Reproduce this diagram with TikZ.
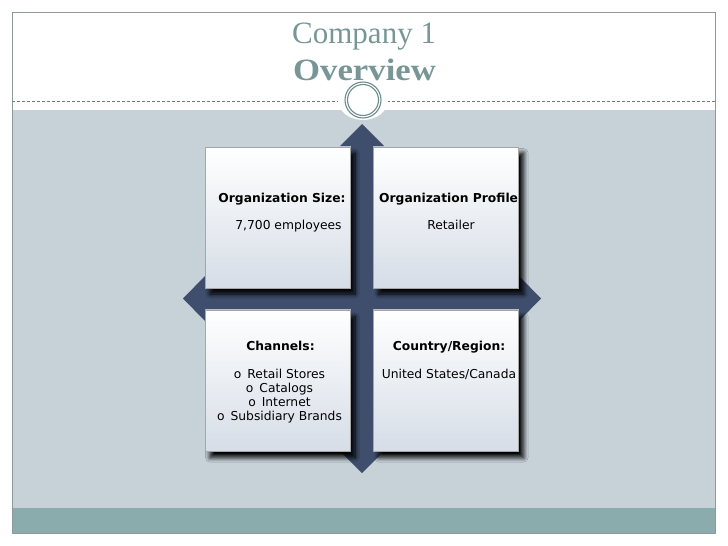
\documentclass[tikz,border=0pt]{standalone}
\usepackage{fontspec}
\usepackage{graphicx}
\usepackage{tikz}
\usetikzlibrary{positioning,shadows.blur}
\setmainfont{Liberation Serif}
\newfontfamily\cardfont{DejaVu Sans}

\definecolor{framegray}{RGB}{140,154,154}
\definecolor{bandgray}{RGB}{198,209,216}
\definecolor{bandteal}{RGB}{138,172,172}
\definecolor{crossnavy}{RGB}{62,78,108}
\definecolor{titleteal}{RGB}{120,150,150}
\definecolor{ringteal}{RGB}{110,140,140}
\definecolor{cardbottom}{RGB}{214,221,231}

\begin{document}
\begin{tikzpicture}[
  x=1pt, y=-1pt,
  card/.style={draw=gray!70, line width=0.6pt, top color=white, bottom color=cardbottom,
    minimum width=145pt, minimum height=141pt, inner sep=0pt,
    blur shadow={shadow xshift=5pt, shadow yshift=-6pt, shadow blur radius=4.5pt,
      shadow opacity=100, shadow blur steps=10}},
  head/.style={font=\cardfont\fontsize{12.3}{14.1}\selectfont\bfseries, inner sep=0pt, anchor=base},
  body/.style={font=\cardfont\fontsize{12.3}{14.1}\selectfont, inner sep=0pt, anchor=base},
  title/.style={text=titleteal, font=\fontsize{31}{36}\selectfont, inner sep=0pt, anchor=base west}
]
\useasboundingbox (0,0) rectangle (728,546);

% background bands and frame
\fill[bandgray] (12,110) rectangle (715,508);
\fill[bandteal] (12,508) rectangle (715,533);
\draw[framegray, line width=1pt] (12,12.5) rectangle (715,533);
\draw[framegray!80!black, dashed, dash pattern=on 3pt off 2pt, line width=0.6pt] (12,101) -- (715,101);

% title
\node[title] (company) at (292,43) {Company 1};
\node[title, font=\fontsize{31}{36}\selectfont\bfseries] (overview) at (293,80) {\scalebox{1.12}[1]{Overview}};

% ring
\fill[white] (363,100) ellipse [x radius=25, y radius=20];
\draw[ringteal, line width=1.1pt] (363,100) circle [radius=18];
\draw[ringteal, line width=1.1pt] (363,100) circle [radius=15.5];

% cross of arrows
\fill[crossnavy] (362,124) -- (384,146) -- (373,146) -- (373,288) -- (519,288) -- (519,276)
  -- (541,298.5) -- (519,321) -- (519,309) -- (373,309) -- (373,451) -- (384,451)
  -- (362,473) -- (340,451) -- (351,451) -- (351,309) -- (205,309) -- (205,321)
  -- (183,298.5) -- (205,276) -- (205,288) -- (351,288) -- (351,146) -- (340,146) -- cycle;

% cards
\node[card] (size) at (277.5,217.5) {};
\node[card, right=23pt of size] (profile) {};
\node[card, below=22pt of size] (channels) {};
\node[card, right=23pt of channels] (region) {};

% texts
\node[head] (sizehead) at (282,202.3) {Organization Size:};
\node[body] (sizetext) at (288.5,229.3) {7,700 employees};
\begin{scope}
  \clip (profile.south west) rectangle (profile.north east);
  \node[head, anchor=base west] (profilehead) at (379,202.3) {Organization Profile:};
\end{scope}
\node[body] (profiletext) at (451,229.3) {Retailer};

\node[head] (channelshead) at (280.5,350.7) {Channels:};
\foreach \item [count=\i] in {Retail Stores, Catalogs, Internet, Subsidiary Brands}
  \node[body] (item\i) at (279.5,364.2+14.1*\i) {o\, \item};

\node[head] (regionhead) at (449,350.7) {Country/Region:};
\node[body] (regiontext) at (449,378.3) {United States/Canada};

\end{tikzpicture}
\end{document}
